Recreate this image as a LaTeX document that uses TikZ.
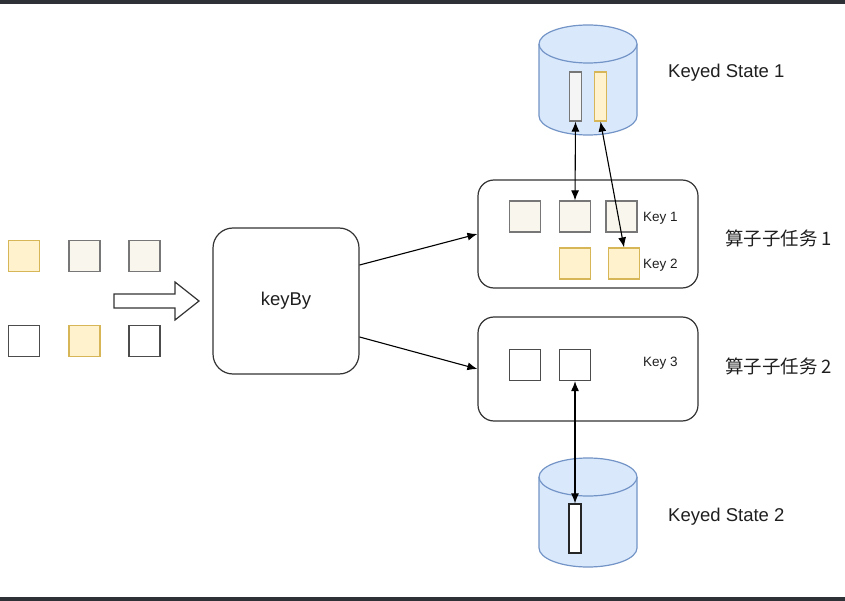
\documentclass[tikz,border=0pt]{standalone}
\usepackage{fontspec}
\setmainfont{Liberation Sans}
\newfontfamily\cjk{Noto Sans CJK SC}
\usepackage{tikz}
\usetikzlibrary{shapes,arrows,arrows.meta,positioning}
\definecolor{ylwfill}{HTML}{FFF2CC}
\definecolor{ylwline}{HTML}{D6B656}
\definecolor{grayfill}{HTML}{F9F7ED}
\definecolor{grayline}{HTML}{777777}
\definecolor{cylfill}{HTML}{DAE8FC}
\definecolor{cylline}{HTML}{7394C6}
\definecolor{barcol}{HTML}{2E3236}
\tikzstyle{ynode} = [rectangle, draw=ylwline, fill=ylwfill, line width=1.2pt, minimum size=31pt, inner sep=0pt]
\tikzstyle{gnode} = [rectangle, draw=grayline, fill=grayfill, line width=1.2pt, minimum size=31pt, inner sep=0pt]
\tikzstyle{enode} = [rectangle, draw=black!70, fill=white, line width=1.2pt, minimum size=31pt, inner sep=0pt]
\tikzstyle{task} = [rectangle, rounded corners=16pt, draw=black!80, line width=1.2pt, minimum width=220pt]
\tikzstyle{slot} = [rectangle, line width=1.2pt, minimum width=12pt, minimum height=49pt, inner sep=0pt]
\tikzstyle{cyl} = [fill=cylfill, draw=cylline, line width=1.2pt]
\tikzstyle{lbl} = [anchor=west, inner sep=0pt, text=black!88, font=\fontsize{18.5}{22}\selectfont]
\tikzstyle{klbl} = [anchor=west, inner sep=0pt, text=black!88, font=\fontsize{13.5}{16}\selectfont]
\tikzstyle{line} = [draw, line width=1.1pt, -{Latex[length=10pt, width=8pt]}]
\tikzstyle{dline} = [draw, line width=1.1pt, {Latex[length=10pt, width=8pt]}-{Latex[length=10pt, width=8pt]}]

\begin{document}
\begin{tikzpicture}[x=1pt, y=-1pt]
				\useasboundingbox (0,0) rectangle (845,601);
				\fill [barcol] (0,0) rectangle (845,4);
				\fill [barcol] (0,597) rectangle (845,601);

				% incoming records
				\node [ynode] (in1) at (24, 256) {};
				\node [gnode] (in2) at (84.5, 256) {};
				\node [gnode] (in3) at (144.5, 256) {};
				\node [enode] (in4) at (24, 341) {};
				\node [ynode] (in5) at (84.5, 341) {};
				\node [enode] (in6) at (144.5, 341) {};
				\draw [line width=1.2pt, draw=black!80] (114,294) -- (175,294) -- (175,282) -- (199,301) -- (175,320) -- (175,308) -- (114,308) -- cycle;

				\node [rectangle, rounded corners=20pt, draw=black!80, line width=1.2pt, minimum width=146pt, minimum height=146pt, text=black!88, font=\fontsize{18.5}{22}\selectfont] (keyby) at (286, 301) {keyBy};

				% subtasks
				\node [task, minimum height=108pt] (task1) at (588, 234) {};
				\node [task, minimum height=104pt] (task2) at (588, 369) {};
				\node [gnode] (a1) at (525, 216.5) {};
				\node [gnode] (a2) at (575, 216.5) {};
				\node [gnode] (a3) at (621.5, 216.5) {};
				\node [ynode] (b2) at (575, 263.5) {};
				\node [ynode] (b3) at (624, 263.5) {};
				\node [enode] (c1) at (525, 365) {};
				\node [enode] (c2) at (575, 365) {};
				\node [klbl] at (643, 218) {Key 1};
				\node [klbl] at (643, 265) {Key 2};
				\node [klbl] at (643, 363) {Key 3};
				\node [lbl] at (725, 238) {\cjk 算子子任务 1};
				\node [lbl] at (725, 366) {\cjk 算子子任务 2};

				% keyed states
				\filldraw [cyl] (539,44) -- (539,116) arc[start angle=180, end angle=0, x radius=49, y radius=19] -- (637,44) arc[start angle=0, end angle=-180, x radius=49, y radius=19] -- cycle;
				\draw [cyl] (539,44) arc[start angle=180, end angle=0, x radius=49, y radius=19];
				\filldraw [cyl] (539,477) -- (539,548) arc[start angle=180, end angle=0, x radius=49, y radius=19] -- (637,477) arc[start angle=0, end angle=-180, x radius=49, y radius=19] -- cycle;
				\draw [cyl] (539,477) arc[start angle=180, end angle=0, x radius=49, y radius=19];
				\node [slot, draw=grayline, fill=black!4] (s1) at (575.5, 96.5) {};
				\node [slot, draw=ylwline, fill=ylwfill] (s2) at (600.5, 96.5) {};
				\node [slot, draw=black!85, fill=white] (s3) at (575, 528.5) {};
				\node [lbl] at (668, 73) {Keyed State 1};
				\node [lbl] at (668, 517) {Keyed State 2};

				\path [line] ([yshift=36pt]keyby.east) -- (task1.west);
				\path [line] ([yshift=-36pt]keyby.east) -- (task2.west);
				\path [dline] (s1.south) -- (a2.north);
				\path [dline] (s2.south) -- (b3.north);
				\path [dline] (c2.south) -- (s3.north);
			\end{tikzpicture}
\end{document}
